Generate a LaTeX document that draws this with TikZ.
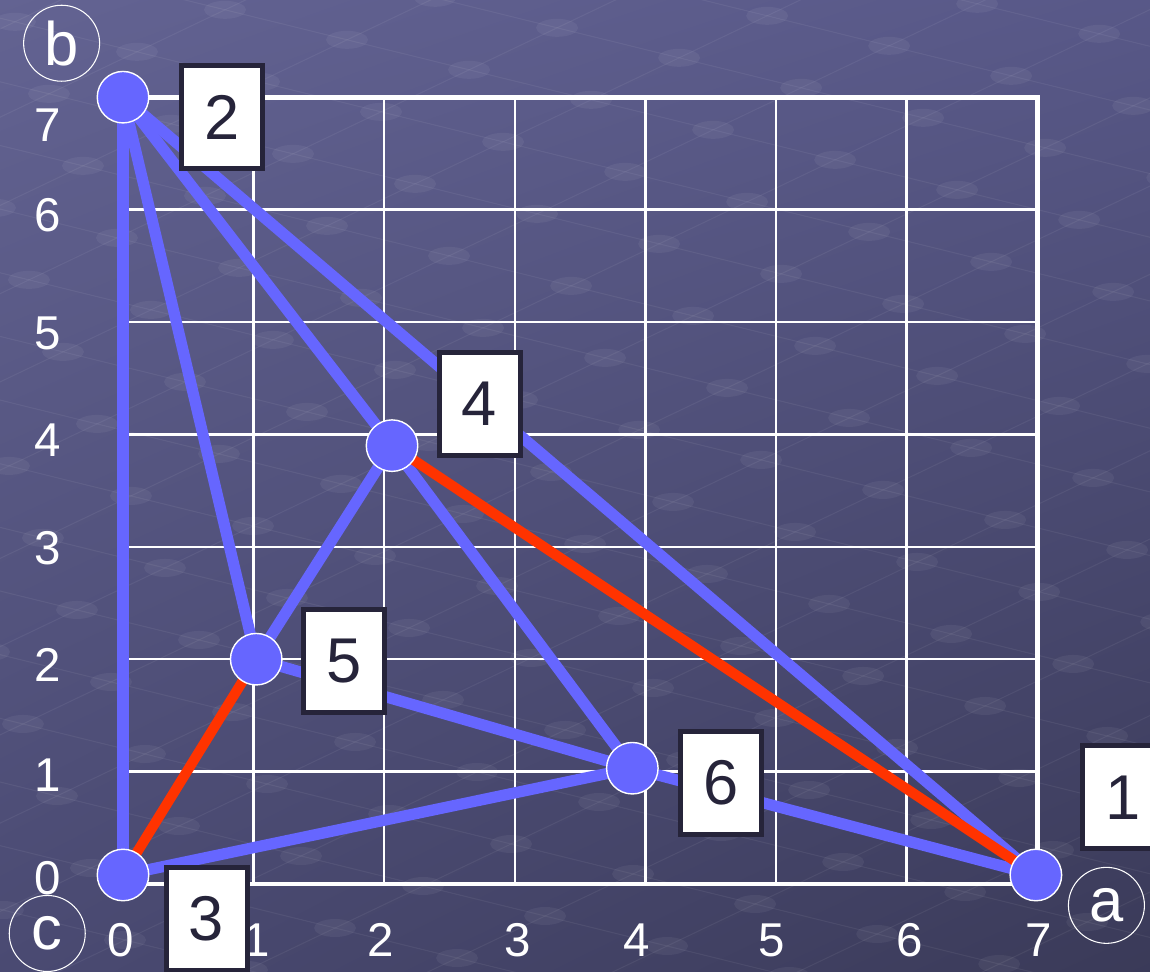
\documentclass[tikz,border=0pt]{standalone}
\usepackage{fontspec}
\setmainfont{Liberation Sans}
\usetikzlibrary{positioning, shadings}
\definecolor{bgtl}{RGB}{99,99,146}
\definecolor{bgtr}{RGB}{88,88,136}
\definecolor{bgbl}{RGB}{74,74,114}
\definecolor{bgbr}{RGB}{58,58,88}
\definecolor{vtx}{RGB}{102,102,255}
\definecolor{hot}{RGB}{255,51,0}
\definecolor{ink}{RGB}{38,36,58}
\pgfdeclarelayer{back}
\pgfdeclarelayer{edges}
\pgfsetlayers{back,edges,main}

\begin{document}
\begin{tikzpicture}[
    x=2.612cm, y=2.248cm,
    vertex/.style={
        circle,
        draw=white,
        line width=0.8pt,
        fill=vtx,
        minimum size=1.03cm,
        inner sep=0pt
    },
    numbox/.style={
        draw=ink,
        line width=2.8pt,
        fill=white,
        text=ink,
        font=\fontsize{36}{40}\selectfont,
        minimum width=1.62cm,
        minimum height=2.06cm,
        inner sep=0pt
    },
    corner/.style={
        circle,
        draw=white,
        line width=0.6pt,
        text=white,
        font=\fontsize{35}{38}\selectfont,
        minimum size=1.52cm,
        inner sep=0pt
    },
    axisnum/.style={text=white, font=\fontsize{27}{30}\selectfont, inner sep=0pt},
    gridline/.style={draw=white, line width=1.4pt},
    frameline/.style={draw=white, line width=2.8pt},
    link/.style={draw=vtx, line width=6.4pt},
    hotlink/.style={draw=hot, line width=5.8pt},
    dot/.style={fill=white, fill opacity=0.055},
    latline/.style={draw=white, draw opacity=0.06, line width=0.6pt}
]
\path[use as bounding box] (-0.94181,-0.77402) rectangle (7.86371,7.86477);

% === background, in pixels of the slide ===
\begin{pgfonlayer}{back}
\begin{scope}[x=0.02cm, y=-0.02cm, shift={(-123,-884)}]
  \shade[upper left=bgtl, upper right=bgtr, lower left=bgbl, lower right=bgbr]
    (-5,-5) rectangle (1155,976);
  \begin{scope}
    \clip (0,0) rectangle (1150,971);
    \foreach \j in {-16,...,4}
      \draw[latline] ({713-6*122+88*\j},{130-6*30-42*\j}) -- ({713+12*122+88*\j},{130+12*30-42*\j});
    \foreach \i in {-6,...,12}
      \draw[latline] ({713+122*\i-16*88},{130+30*\i+16*42}) -- ({713+122*\i+4*88},{130+30*\i-4*42});
    \foreach \i in {-6,...,12}
      \foreach \j in {-16,...,4}
        \fill[dot] ({713+122*\i+88*\j},{130+30*\i-42*\j}) ellipse (21 and 9);
  \end{scope}
\end{scope}

% === grid ===
\foreach \k in {1,...,6} {
  \draw[gridline] (\k,0) -- (\k,7);
  \draw[gridline] (0,\k) -- (7,\k);
}
\draw[frameline] (0,0) rectangle (7,7);
\end{pgfonlayer}

% === axis numbers ===
\foreach \v/\yy in {7/6.75, 6/5.95, 5/4.90, 4/3.95, 3/2.99, 2/1.95, 1/0.97, 0/0.05}
  \node[axisnum] (y\v) at (-0.58,\yy) {\v};
\foreach \v/\xx in {0/-0.02, 1/1.02, 2/1.97, 3/3.02, 4/3.93, 5/4.97, 6/6.02, 7/7.01}
  \node[axisnum] (x\v) at (\xx,-0.5) {\v};

% === vertices ===
\node[vertex] (v1) at (6.99,0.08) {};
\node[vertex] (v2) at (0,7) {};
\node[vertex] (v3) at (0,0.08) {};
\node[vertex] (v4) at (2.06,3.9) {};
\node[vertex] (v5) at (1.02,2) {};
\node[vertex] (v6) at (3.9,1.03) {};

% === edges ===
\begin{pgfonlayer}{edges}
\foreach \s/\t in {v2/v3, v2/v5, v2/v4, v2/v1, v4/v5, v4/v6, v5/v6, v6/v3, v6/v1}
  \draw[link] (\s.center) -- (\t.center);
\foreach \s/\t in {v4/v1, v5/v3}
  \draw[hotlink] (\s.center) -- (\t.center);
\end{pgfonlayer}

% === order labels ===
\node[numbox] (l1) at (7.66,0.77) {1};
\node[numbox] (l2) at (0.76,6.82) {2};
\node[numbox] (l3) at (0.64,-0.31) {3};
\node[numbox] (l4) at (2.73,4.27) {4};
\node[numbox] (l5) at (1.69,1.98) {5};
\node[numbox] (l6) at (4.58,0.90) {6};

% === corner names ===
\node[corner] (ta) at (7.53,-0.19) {a};
\node[corner] (tb) at (-0.47,7.48) {b};
\node[corner] (tc) at (-0.58,-0.44) {c};

\end{tikzpicture}
\end{document}
